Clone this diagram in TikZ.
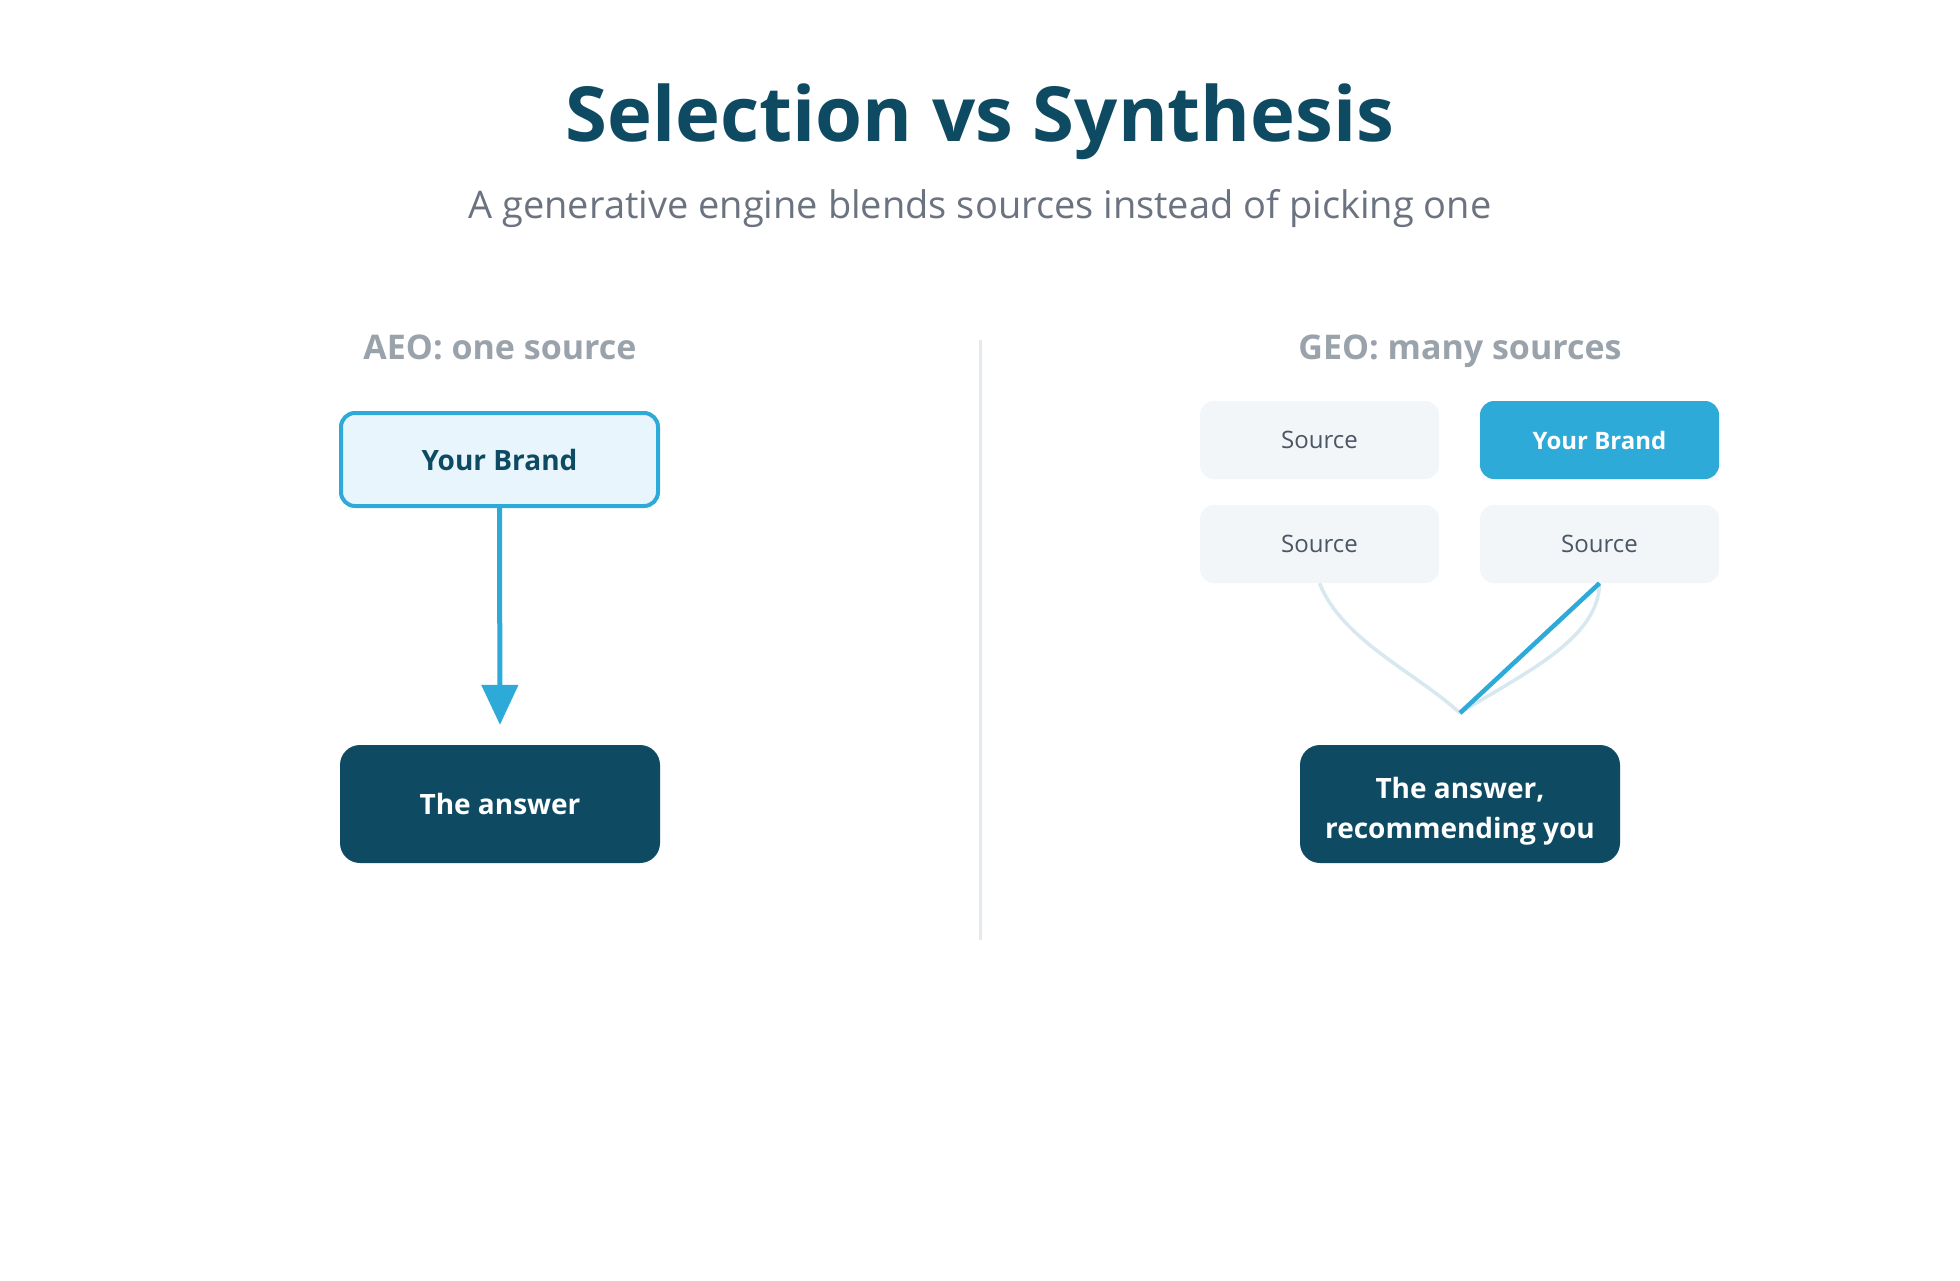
\documentclass[tikz,border=0pt]{standalone}
\usepackage{fontspec}
\setmainfont{Open Sans}
\usetikzlibrary{arrows.meta}
\definecolor{navy}{HTML}{0E4B63}
\definecolor{subgray}{HTML}{6B7280}
\definecolor{headgray}{HTML}{9AA3AB}
\definecolor{divcol}{HTML}{E2EAF0}
\definecolor{brandblue}{HTML}{2EAAD8}
\definecolor{brandlight}{HTML}{E8F5FC}
\definecolor{srcfill}{HTML}{F2F6F9}
\definecolor{srctext}{HTML}{4B5563}
\definecolor{linklight}{HTML}{D8E8F0}
\begin{document}
\begin{tikzpicture}[x=1pt,y=-1pt,
  titletext/.style={text=navy,font=\fontsize{76}{90}\selectfont\bfseries},
  subtext/.style={text=subgray,font=\fontsize{38}{46}\selectfont},
  headtext/.style={text=headgray,anchor=base,font=\fontsize{34}{40}\selectfont\bfseries},
  brandout/.style={draw=brandblue,line width=4pt,fill=brandlight,rounded corners=14pt,
    minimum width=317pt,minimum height=93pt,inner sep=0pt,text=navy,
    font=\fontsize{28}{33}\selectfont\bfseries},
  answerbox/.style={fill=navy,rounded corners=20pt,minimum width=320pt,minimum height=118pt,
    inner sep=0pt,text=white,align=center,font=\fontsize{28}{40}\selectfont\bfseries},
  srcbox/.style={fill=srcfill,rounded corners=14pt,minimum width=239pt,minimum height=78pt,
    inner sep=0pt,text=srctext,font=\fontsize{24}{28}\selectfont},
  brandfill/.style={fill=brandblue,rounded corners=14pt,minimum width=239pt,minimum height=78pt,
    inner sep=0pt,text=white,font=\fontsize{24}{28}\selectfont\bfseries},
  lightlink/.style={draw=linklight,line width=3.5pt},
  bluelink/.style={draw=brandblue,line width=4.5pt}
]
\fill[white] (0,0) rectangle (1960,1280);
\useasboundingbox (0,0) rectangle (1960,1280);

\node[titletext] (title) at (980,122) {Selection vs Synthesis};
\node[subtext] (sub) at (980,209) {A generative engine blends sources instead of picking one};

\node[headtext] (aeo) at (500,359) {AEO: one source};
\node[headtext] (geo) at (1460,359) {GEO: many sources};

\draw[divcol,line width=3pt] (980,340) -- (980,940);

% left column
\node[brandout] (lbrand) at (499.5,459.5) {Your Brand};
\node[answerbox] (lans) at (500,804) {The answer};
\draw[brandblue,line width=5pt,-{Triangle[length=40pt,width=36pt]},shorten >=20pt]
  (lbrand.south) -- (lans.north);

% right column
\node[srcbox] (s1) at (1319.5,440) {Source};
\node[brandfill] (rbrand) at (1599.5,440) {Your Brand};
\node[srcbox] (s2) at (1319.5,544) {Source};
\node[srcbox] (s3) at (1599.5,544) {Source};
\node[answerbox] (rans) at (1460,804) {\rule{0pt}{35pt}The answer,\\recommending you};

\coordinate (merge) at (1460,713);
\draw[lightlink] (s2.south) .. controls (1342,640) and (1415,672) .. (merge);
\draw[lightlink] (s3.south) .. controls (1599,640) and (1520,675) .. (merge);
\draw[bluelink] (s3.south) -- (merge);
\end{tikzpicture}
\end{document}
